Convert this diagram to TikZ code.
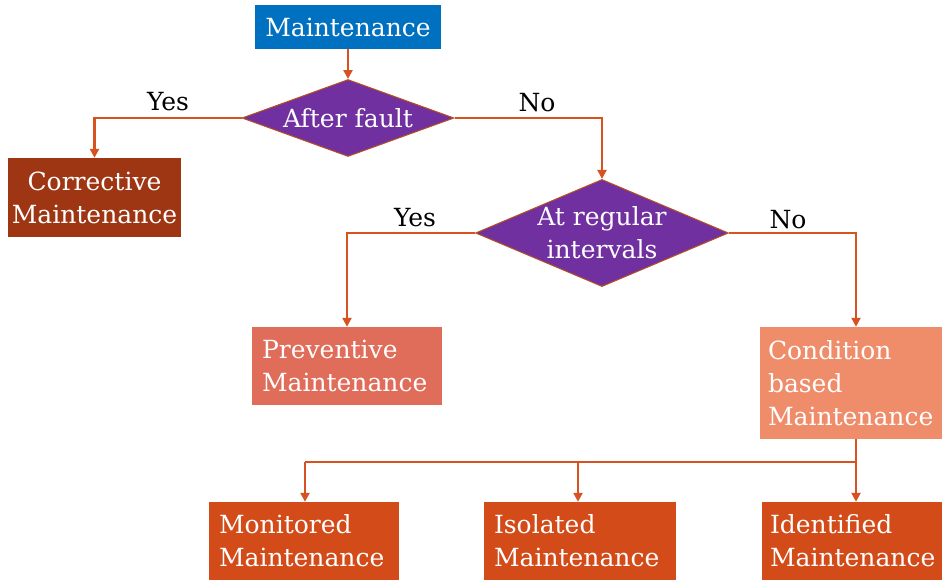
\documentclass[tikz,border=0pt]{standalone}
\usepackage{fontspec}
\setmainfont{DejaVu Serif}
\usetikzlibrary{shapes.geometric,arrows.meta}
\definecolor{cblue}{HTML}{0070C0}
\definecolor{cpurple}{HTML}{7030A0}
\definecolor{ccorr}{HTML}{9E3614}
\definecolor{cprev}{HTML}{E06C5A}
\definecolor{ccond}{HTML}{EF8D6B}
\definecolor{cbot}{HTML}{D24B19}
\definecolor{cline}{HTML}{D65220}
\definecolor{cdborder}{HTML}{B8501E}
\begin{document}
\begin{tikzpicture}[x=1pt,y=-1pt,
  boxstyle/.style={rectangle, draw=none, text=white, inner sep=0pt,
    font=\fontsize{25}{33}\selectfont},
  decision/.style={diamond, fill=cpurple, draw=cdborder, line width=1pt, text=white,
    inner sep=0pt, font=\fontsize{25}{33}\selectfont, align=center},
  conn/.style={draw=cline, line width=2.6pt},
  arr/.style={conn, -{Triangle[width=9pt,length=9pt]}},
  lbl/.style={text=black, inner sep=0pt, font=\fontsize{25}{28}\selectfont}]
\useasboundingbox (0,0) rectangle (942,581);

\node[boxstyle, fill=cblue, minimum width=186, minimum height=44] (main) at (348,27) {Maintenance};

\node[decision, minimum width=212, minimum height=77, aspect=2.75] (d1) at (348,118) {After fault};
\node[decision, minimum width=250, minimum height=106, aspect=2.36] (d2) at (602,233) {At regular\\intervals};

\node[boxstyle, fill=ccorr, minimum width=173, minimum height=79, align=center] (corr) at (94.5,197.5) {Corrective\\Maintenance};
\node[boxstyle, fill=cprev, minimum width=190, minimum height=78, text width=170, align=left] (prev) at (347,366) {Preventive\\Maintenance};
\node[boxstyle, fill=ccond, minimum width=182, minimum height=112, text width=166, align=left] (cond) at (851,383) {Condition\\based\\Maintenance};

\node[boxstyle, fill=cbot, minimum width=190, minimum height=78, text width=170, align=left] (mon) at (304,541) {Monitored\\Maintenance};
\node[boxstyle, fill=cbot, minimum width=192, minimum height=78, text width=172, align=left] (iso) at (580,541) {Isolated\\Maintenance};
\node[boxstyle, fill=cbot, minimum width=180, minimum height=78, text width=164, align=left] (ide) at (852,541) {Identified\\Maintenance};

\draw[arr] (main.south) -- (d1.north);
\draw[arr] (d1.west) -| (corr.north);
\draw[arr] (d1.east) -| (d2.north);
\draw[arr] (d2.west) -| (prev.north);
\coordinate (busR) at (856,462);
\coordinate (busL) at (305,462);
\draw[arr] (d2.east) -| (busR |- cond.north);
\draw[conn] (busR |- cond.south) -- (busR) -- (busL);
\draw[arr] (busL) -- (busL |- mon.north);
\draw[arr] (busL -| 578,0) -- (578,0 |- iso.north);
\draw[arr] (busR) -- (busR |- ide.north);

\node[lbl] (y1) at (168,102) {Yes};
\node[lbl] (n1) at (537,103) {No};
\node[lbl] (y2) at (415,218) {Yes};
\node[lbl] (n2) at (788,220) {No};
\end{tikzpicture}
\end{document}
